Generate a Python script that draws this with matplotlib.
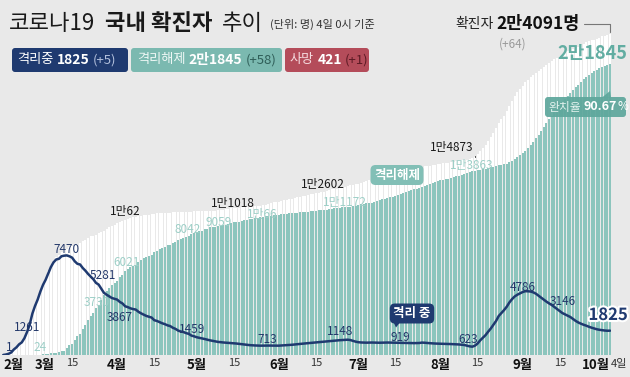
# %%
# ------------------------------------------------------------
# 코로나19 국내 확진자 추이 (infographic remake)
# white bars = cumulative confirmed, teal bars = released,
# navy line = currently in isolation
# ------------------------------------------------------------
import matplotlib
matplotlib.use("Agg")
import matplotlib.pyplot as plt
import matplotlib.dates as mdates
import matplotlib.patheffects as pe
from matplotlib.patches import FancyBboxPatch, Polygon
import pandas as pd

# %%
# ------------------------------------------------------------
# 1. Data (daily, 2020-02-18 ~ 2020-10-04)
# ------------------------------------------------------------
first_day = "2020-02-18"

confirmed = [
    31, 51, 104, 204, 433, 602, 833, 977, 1261, 1766, 2337, 3150,  # Feb
    3736, 4212, 4812, 5328, 5766, 6284, 6767, 7134, 7382, 7513, 7755, 7869, 7979, 8086, 8162, 8236,
    8320, 8413, 8565, 8652, 8799, 8897, 8961, 9037, 9137, 9241, 9332, 9478, 9583, 9661, 9786,  # Mar
    9887, 9976, 10062, 10156, 10237, 10284, 10331, 10384, 10423, 10450, 10480, 10512, 10537, 10564, 10591,
    10613, 10635, 10653, 10661, 10674, 10683, 10694, 10702, 10708, 10718, 10728, 10738, 10752, 10761, 10765,  # Apr
    10774, 10780, 10793, 10801, 10804, 10806, 10810, 10822, 10840, 10874, 10909, 10936, 10962, 10991, 11018,
    11037, 11050, 11065, 11078, 11110, 11122, 11142, 11165, 11190, 11206, 11225, 11265, 11344, 11402, 11441, 11468,  # May
    11503, 11541, 11590, 11629, 11668, 11719, 11776, 11814, 11852, 11902, 11947, 12003, 12051, 12085, 12121,
    12155, 12198, 12257, 12306, 12373, 12421, 12438, 12484, 12535, 12563, 12602, 12653, 12715, 12757, 12800,  # Jun
    12850, 12904, 12967, 13030, 13091, 13137, 13181, 13244, 13293, 13338, 13373, 13417, 13479, 13512, 13551,
    13612, 13672, 13711, 13745, 13771, 13816, 13879, 13938, 13979, 14092, 14150, 14175, 14203, 14251, 14269, 14305,  # Jul
    14336, 14366, 14389, 14423, 14456, 14499, 14519, 14562, 14598, 14626, 14660, 14714, 14770, 14873, 15039,
    15318, 15515, 15761, 16058, 16346, 16670, 17002, 17399, 17665, 17945, 18265, 18706, 19077, 19400, 19699, 19947,  # Aug
    20182, 20449, 20644, 20842, 21010, 21177, 21296, 21432, 21588, 21743, 21919, 22055, 22176, 22285, 22391,
    22504, 22657, 22783, 22893, 22975, 23045, 23106, 23216, 23341, 23455, 23516, 23611, 23661, 23699, 23812,  # Sep
    23889, 23952, 24027, 24091,  # Oct
]

released = [
    12, 16, 16, 17, 18, 18, 22, 22, 24, 26, 27, 27,  # Feb
    30, 30, 34, 41, 88, 108, 118, 130, 166, 247, 288, 333, 510, 714, 834, 1137,
    1407, 1540, 1947, 2233, 2612, 2909, 3166, 3507, 3730, 4144, 4528, 4811, 5033, 5228, 5408,  # Mar
    5567, 5828, 6021, 6325, 6463, 6598, 6694, 6776, 6973, 7117, 7243, 7368, 7447, 7534, 7757,
    7829, 7937, 8042, 8114, 8213, 8277, 8411, 8501, 8635, 8717, 8764, 8854, 8922, 9059, 9123,  # Apr
    9217, 9283, 9333, 9419, 9484, 9568, 9610, 9632, 9670, 9695, 9720, 9762, 9821, 9888, 9938,
    9970, 9983, 10066, 10135, 10162, 10194, 10226, 10275, 10295, 10340, 10363, 10398, 10405, 10422, 10467, 10496,  # May
    10531, 10555, 10589, 10611, 10634, 10654, 10669, 10680, 10689, 10718, 10730, 10760, 10774, 10794, 10804,
    10838, 10856, 10881, 10908, 10930, 10966, 10996, 11020, 11041, 11065, 11079, 11106, 11128, 11172, 11207,  # Jun
    11251, 11289, 11317, 11365, 11400, 11436, 11476, 11537, 11629, 11684, 11722, 11776, 11828, 11848, 11914,
    11970, 12065, 12129, 12204, 12282, 12348, 12414, 12475, 12559, 12616, 12698, 12733, 12812, 12929, 12996, 13043,  # Jul
    13103, 13138, 13183, 13233, 13280, 13352, 13402, 13457, 13491, 13569, 13639, 13715, 13776, 13817, 13863,
    13901, 13934, 13973, 14006, 14063, 14122, 14175, 14219, 14249, 14297, 14362, 14461, 14571, 14689, 14856, 15003,  # Aug
    15136, 15334, 15533, 15751, 15976, 16241, 16505, 16791, 17094, 17393, 17694, 17947, 18218, 18482, 18724,
    18986, 19230, 19456, 19659, 19887, 20097, 20278, 20472, 20676, 20854, 20995, 21160, 21270, 21363, 21515,  # Sep
    21618, 21702, 21787, 21845,  # Oct
]

isolating = [
    1, 35, 87, 186, 413, 577, 803, 945, 1261, 1727, 2296, 3106,  # Feb
    3680, 4159, 4750, 5255, 5643, 6134, 6604, 6954, 7165, 7212, 7407, 7450, 7470, 7402, 7300, 7024,
    6838, 6789, 6527, 6325, 6085, 5884, 5684, 5410, 5281, 4966, 4665, 4523, 4398, 4275, 4216,  # Mar
    4155, 3979, 3867, 3654, 3591, 3500, 3445, 3408, 3246, 3125, 3026, 2930, 2873, 2808, 2609,
    2554, 2468, 2379, 2313, 2224, 2169, 2043, 1960, 1833, 1761, 1724, 1641, 1587, 1459, 1402,  # Apr
    1332, 1290, 1250, 1200, 1150, 1100, 1060, 1020, 985, 960, 940, 925, 910, 895, 880,
    860, 835, 810, 785, 760, 740, 725, 715, 705, 700, 705, 713, 708, 705, 702, 702,  # May
    700, 712, 725, 740, 752, 768, 790, 812, 833, 850, 868, 885, 905, 920, 940,
    955, 975, 995, 1015, 1035, 1055, 1075, 1095, 1110, 1125, 1140, 1148, 1120, 1060, 1000,  # Jun
    960, 940, 930, 925, 930, 935, 930, 925, 920, 925, 930, 935, 930, 925, 920,
    919, 915, 910, 905, 900, 895, 890, 895, 900, 930, 920, 900, 885, 870, 860, 850,  # Jul
    845, 840, 830, 825, 820, 810, 800, 790, 770, 750, 700, 650, 623, 700, 860,
    1100, 1300, 1490, 1750, 1990, 2270, 2560, 2930, 3150, 3370, 3620, 3940, 4190, 4390, 4520, 4620,  # Aug
    4720, 4786, 4780, 4760, 4700, 4600, 4450, 4300, 4150, 4000, 3870, 3750, 3600, 3440, 3300,
    3146, 3050, 2950, 2850, 2700, 2560, 2440, 2350, 2270, 2200, 2120, 2050, 1990, 1930, 1890,  # Sep
    1860, 1835, 1820, 1825,  # Oct
]

deaths_total = 421
deaths_new = 1
recovery_rate = "90.67"

tick_days = ["2020-02-18", "2020-03-01", "2020-03-15", "2020-04-01", "2020-04-15",
             "2020-05-01", "2020-05-15", "2020-06-01", "2020-06-15", "2020-07-01",
             "2020-07-15", "2020-08-01", "2020-08-15", "2020-09-01", "2020-09-15",
             "2020-10-04"]
tick_labels = ["2월", "3월", "15", "4월", "15", "5월", "15", "6월", "15", "7월",
               "15", "8월", "15", "9월", "15", "10월"]

dates = pd.date_range(first_day, periods=len(confirmed), freq="D")
x = mdates.date2num(dates)

# %%
# ------------------------------------------------------------
# 2. Styles
# ------------------------------------------------------------
BG = "#e9e9e9"
NAVY = "#1f3a70"
TEAL = "#8cc5bd"
TEAL_BOX = "#7bb9b0"
TEAL_TXT = "#9dcfc7"
RED = "#b44c5a"
KR = ["Noto Sans CJK KR", "DejaVu Sans"]
plt.rcParams["font.family"] = KR


def fmt(v):
    return f"{v // 10000}만{v % 10000}" if v >= 10000 else str(v)


def idx(day):
    return dates.get_loc(pd.Timestamp(day))


# %%
# ------------------------------------------------------------
# 3. Chart
# ------------------------------------------------------------
fig = plt.figure(figsize=(6.3, 3.77), dpi=100, facecolor=BG)
ax = fig.add_axes([1.9 / 630, 22 / 377, 609.5 / 630, 330 / 377])
ax.set_facecolor("none")

ax.bar(x, confirmed, width=0.74, color="white", linewidth=0, zorder=1)
ax.bar(x, released, width=0.74, color=TEAL, linewidth=0, zorder=2)
ax.plot(x, isolating, color=NAVY, lw=1.8, zorder=3, solid_capstyle="round")

ax.set_xlim(x[0] - 0.5, x[-1] + 0.5)
ax.set_ylim(0, 24750)
for s in ax.spines.values():
    s.set_visible(False)
ax.set_yticks([])
ax.set_xticks(mdates.date2num(pd.to_datetime(tick_days)), tick_labels)
ax.tick_params(axis="x", length=0, pad=2.5)
ticks = ax.get_xticklabels()
for t in ticks:
    if t.get_text().endswith("월"):
        t.set_fontweight("bold")
        t.set_fontsize(9.5)
        t.set_color("#111111")
    else:
        t.set_fontsize(8)
        t.set_color("#333333")
ticks[0].set_ha("left")
ticks[1].set_ha("left")
ticks[-1].set_ha("right")
ax.text(x[-1] + 0.4, -0.013, "4일", transform=ax.get_xaxis_transform(),
        ha="left", va="top", fontsize=8, color="#333333")


def label(series, day, dx, dy, color, size=8.5, **kw):
    i = idx(day)
    return ax.annotate(fmt(series[i]), xy=(x[i], series[i]),
                       xytext=(dx * 0.72, dy * 0.72), textcoords="offset points",
                       ha="center", va="center", fontsize=size, color=color,
                       zorder=6, **kw)


# confirmed totals
for day, dx, dy in [("2020-04-03", 2.5, 9), ("2020-05-15", -1, 5), ("2020-06-26", -22, 2)]:
    label(confirmed, day, dx, dy, "#1a1a1a")
label(confirmed, "2020-08-14", -23, 9.5, "#1a1a1a",
      arrowprops=dict(arrowstyle="-", color="#333333", lw=0.7, shrinkA=0, shrinkB=1,
                      connectionstyle="angle,angleA=0,angleB=90,rad=0"))

# released
for day, dx, dy in [("2020-02-26", 16, 7), ("2020-03-25", -1.6, 3), ("2020-04-03", 4.5, 12.7),
                    ("2020-04-18", 25, 18), ("2020-04-29", 27, 12), ("2020-05-18", 20, 6),
                    ("2020-06-29", -8, 4), ("2020-08-15", -5.6, 5)]:
    label(released, day, dx, dy, TEAL_TXT)

# in isolation
for day, dx, dy in [("2020-02-18", 5.8, 7), ("2020-02-26", 3, 11), ("2020-03-13", 0, 5.5),
                    ("2020-03-25", 4.4, 8.6), ("2020-04-03", -2.5, -13.6), ("2020-04-29", 0.6, 6.5),
                    ("2020-05-27", 1.4, 5.5), ("2020-06-27", -7.7, 7.7), ("2020-07-16", 2, 5.7),
                    ("2020-08-13", -4.3, 6.7), ("2020-09-02", -3, 4), ("2020-09-16", 0, 12)]:
    label(isolating, day, dx, dy, "#23386a")
label(isolating, "2020-10-04", -2, 15.7, NAVY, size=12, fontweight="bold",
      path_effects=[pe.withStroke(linewidth=3, foreground="white")])

# %%
# ------------------------------------------------------------
# 4. Header, legend boxes and callouts (pixel overlay)
# ------------------------------------------------------------
ov = fig.add_axes([0, 0, 1, 1], zorder=5)
ov.set_xlim(0, 630)
ov.set_ylim(377, 0)
ov.axis("off")


def chain(x0, y0, parts):
    prev = None
    for s, gap, st in parts:
        if prev is None:
            prev = ov.text(x0, y0, s, ha="left", va="center", **st)
        else:
            prev = ov.annotate(s, xy=(1, 0.5), xycoords=prev, xytext=(gap, 0),
                               textcoords="offset points", ha="left", va="center", **st)
    return prev


def box(x0, y0, w, h, color, alpha=1.0):
    ov.add_patch(FancyBboxPatch((x0, y0), w, h, boxstyle="round,pad=0,rounding_size=3",
                                fc=color, ec="none", alpha=alpha))


title = dict(fontsize=16, color="#1a1a1a")
chain(9, 24, [("코로나19", 0, title),
              ("국내 확진자", 7, dict(title, weight="bold")),
              ("추이", 7, title),
              ("(단위: 명) 4일 0시 기준", 5, dict(fontsize=8, color="#333333"))])

box(12, 48, 116, 24, NAVY)
chain(17, 60, [("격리중", 0, dict(fontsize=9.5, color="white")),
               (str(isolating[-1]), 2.5, dict(fontsize=10, weight="bold", color="white")),
               (f"(+{isolating[-1] - isolating[-2]})", 2.5, dict(fontsize=9.5, color="#b3c0dc"))])

box(131, 48, 151, 24, TEAL_BOX)
chain(137, 60, [("격리해제", 0, dict(fontsize=9.5, color="#eef7f5")),
                (fmt(released[-1]), 2.5, dict(fontsize=10, weight="bold", color="white")),
                (f"(+{released[-1] - released[-2]})", 2, dict(fontsize=9.5, color="#2f5e58"))])

box(285, 48, 84, 24, RED)
chain(290, 60, [("사망", 0, dict(fontsize=9.5, color="#f5dade")),
                (str(deaths_total), 2.5, dict(fontsize=10, weight="bold", color="white")),
                (f"(+{deaths_new})", 2, dict(fontsize=9.5, color="#5c1a24"))])

# total confirmed callout with leader line to the last bar
tot = chain(455, 24, [("확진자", 0, dict(fontsize=10, color="#222222")),
                      (fmt(confirmed[-1]) + "명", 2.5, dict(fontsize=12.5, weight="bold", color="#111111"))])
ov.annotate("", xy=(x[-1], confirmed[-1]), xycoords=ax.transData,
            xytext=(1, 0.5), textcoords=tot,
            arrowprops=dict(arrowstyle="-", color="#777777", lw=0.8, shrinkA=3, shrinkB=1,
                            connectionstyle="angle,angleA=0,angleB=90,rad=0"))
ov.text(513, 44, f"(+{confirmed[-1] - confirmed[-2]})", ha="center", va="center",
        fontsize=8.5, color="#9a9a9a")
ov.text(627, 54, fmt(released[-1]), ha="right", va="center", fontsize=13,
        weight="bold", color="#62ada2")

# recovery rate badge
box(545, 97, 81, 20, "#5ea79c", alpha=0.93)
ov.add_patch(Polygon([(602, 97.5), (611, 97.5), (610, 91)], closed=True,
                     fc="#5ea79c", ec="none", alpha=0.93))
chain(548, 107, [("완치율", 0, dict(fontsize=8.5, color="#e3f2ee")),
                 (recovery_rate, 2, dict(fontsize=9, weight="bold", color="white")),
                 ("%", 0.3, dict(fontsize=8.5, color="white"))])

# series name tags
ov.text(397, 175, "격리해제", ha="center", va="center", fontsize=9,
        weight="bold", color="white",
        bbox=dict(boxstyle="round,pad=0.28,rounding_size=0.4", fc="#82bfb6", ec="none"))
ov.text(412, 313.5, "격리 중", ha="center", va="center", fontsize=9,
        weight="bold", color="white",
        bbox=dict(boxstyle="round,pad=0.28,rounding_size=0.4", fc=NAVY, ec="none"))
ov.add_patch(Polygon([(393, 321), (401, 321), (396, 327.5)], closed=True, fc=NAVY, ec="none"))

fig.savefig("out.png", dpi=100, facecolor=BG)
